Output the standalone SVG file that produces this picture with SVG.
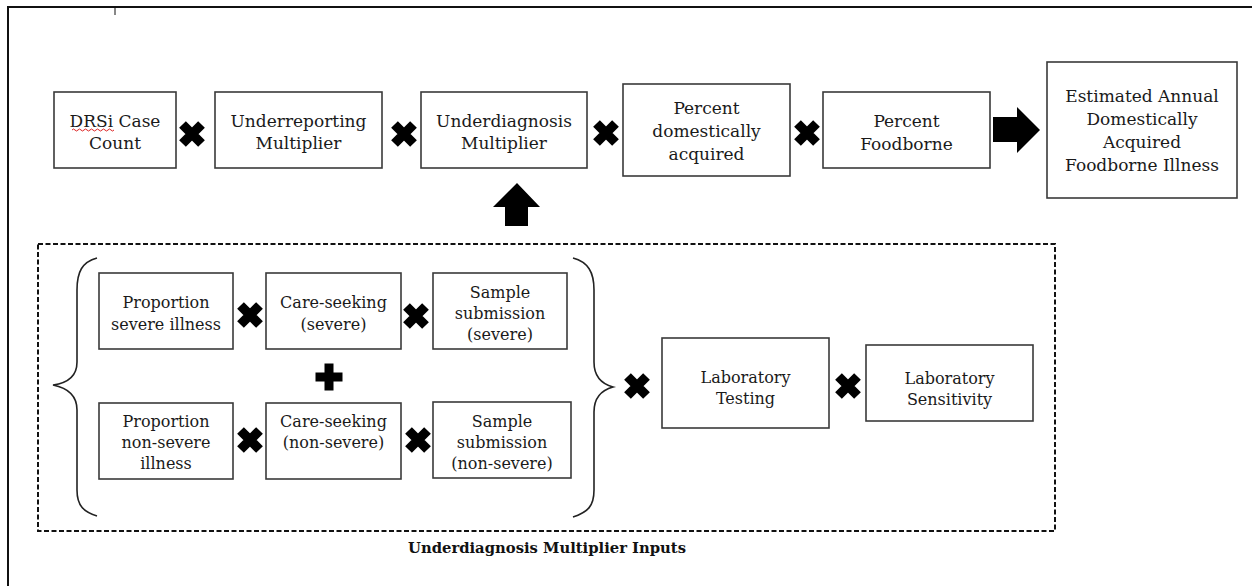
<svg xmlns="http://www.w3.org/2000/svg" width="1255" height="586" viewBox="0 0 1255 586">
  <style>
    .box { fill: #fff; stroke: #3a3a3a; stroke-width: 1.6; }
    .lbl { font-family: "DejaVu Serif", "Liberation Serif", serif; font-size: 16px; fill: #1a1a1a; text-anchor: middle; }
    .big { font-size: 17px; }
    .cap { font-family: "DejaVu Serif", "Liberation Serif", serif; font-size: 14.5px; font-weight: bold; fill: #111; text-anchor: middle; }
    .brace { fill: none; stroke: #222; stroke-width: 1.6; }
    .frame { fill: none; stroke: #111; stroke-width: 2; }
    .group { fill: none; stroke: #111; stroke-width: 2; stroke-dasharray: 5 2.5; }
    .op { fill: #000; }
  </style>
  <defs>
    <!-- heavy multiplication sign -->
    <g id="times">
      <path d="M-9.5,-9.5 L9.5,9.5 M9.5,-9.5 L-9.5,9.5" stroke="#000" stroke-width="9.5" fill="none"/>
    </g>
    <!-- heavy plus sign -->
    <g id="plus">
      <path d="M-4.5,-13.5 H4.5 V-4.5 H13.5 V4.5 H4.5 V13.5 H-4.5 V4.5 H-13.5 V-4.5 H-4.5 Z" fill="#000"/>
    </g>
  </defs>

  <rect width="1255" height="586" fill="#fff"/>

  <!-- page frame -->
  <path class="frame" d="M8,586 V7 H1252"/>
  <path d="M115,7 V15" stroke="#111" stroke-width="1"/>

  <!-- top row -->
  <g id="drsi-case-count">
    <rect class="box" x="54" y="92" width="122" height="76"/>
    <text class="lbl big" x="115" y="127">DRSi Case</text>
    <text class="lbl big" x="115" y="149">Count</text>
    <path d="M72,130 q1.5,-2 3,0 t3,0 t3,0 t3,0 t3,0 t3,0 t3,0 t3,0 t3,0 t3,0 t3,0 t3,0 t3,0 t3,0" fill="none" stroke="#d22" stroke-width="1"/>
  </g>
  <g id="underreporting-multiplier">
    <rect class="box" x="215" y="92" width="167" height="76"/>
    <text class="lbl big" x="298.5" y="127">Underreporting</text>
    <text class="lbl big" x="298.5" y="149">Multiplier</text>
  </g>
  <g id="underdiagnosis-multiplier">
    <rect class="box" x="421" y="92" width="166" height="76"/>
    <text class="lbl big" x="504" y="127">Underdiagnosis</text>
    <text class="lbl big" x="504" y="149">Multiplier</text>
  </g>
  <g id="percent-domestic">
    <rect class="box" x="623" y="84" width="167" height="92"/>
    <text class="lbl big" x="706.5" y="114">Percent</text>
    <text class="lbl big" x="706.5" y="137">domestically</text>
    <text class="lbl big" x="706.5" y="160">acquired</text>
  </g>
  <g id="percent-foodborne">
    <rect class="box" x="823" y="92" width="167" height="76"/>
    <text class="lbl big" x="906.5" y="127">Percent</text>
    <text class="lbl big" x="906.5" y="150">Foodborne</text>
  </g>
  <g id="estimated-illness">
    <rect class="box" x="1047" y="62" width="190" height="136"/>
    <text class="lbl big" x="1142" y="102">Estimated Annual</text>
    <text class="lbl big" x="1142" y="125">Domestically</text>
    <text class="lbl big" x="1142" y="148">Acquired</text>
    <text class="lbl big" x="1142" y="171">Foodborne Illness</text>
  </g>

  <!-- underdiagnosis inputs -->
  <g id="inputs-group">
    <rect class="group" x="38" y="244" width="1017" height="287"/>
    <text class="cap" x="547" y="553" textLength="278" lengthAdjust="spacingAndGlyphs">Underdiagnosis Multiplier Inputs</text>
  </g>
  <g id="braces">
    <path class="brace" d="M97,258 C82,262 77,272 77,290 V362 C77,376 68,383 53,385 C68,388 77,395 77,410 V490 C77,506 84,512 97,516"/>
    <path class="brace" d="M573,258 C588,262 594,272 594,290 V362 C594,377 602,384 613,387 C602,390 594,397 594,412 V490 C594,506 588,512 573,517"/>
  </g>
  <g id="proportion-severe">
    <rect class="box" x="99" y="273" width="134" height="76"/>
    <text class="lbl" x="166" y="308">Proportion</text>
    <text class="lbl" x="166" y="330">severe illness</text>
  </g>
  <g id="care-seeking-severe">
    <rect class="box" x="266" y="273" width="135" height="76"/>
    <text class="lbl" x="333.5" y="308">Care-seeking</text>
    <text class="lbl" x="333.5" y="330">(severe)</text>
  </g>
  <g id="sample-severe">
    <rect class="box" x="433" y="273" width="134" height="76"/>
    <text class="lbl" x="500" y="298">Sample</text>
    <text class="lbl" x="500" y="319">submission</text>
    <text class="lbl" x="500" y="340">(severe)</text>
  </g>
  <g id="proportion-nonsevere">
    <rect class="box" x="99" y="403" width="134" height="76"/>
    <text class="lbl" x="166" y="427">Proportion</text>
    <text class="lbl" x="166" y="448">non-severe</text>
    <text class="lbl" x="166" y="469">illness</text>
  </g>
  <g id="care-seeking-nonsevere">
    <rect class="box" x="266" y="403" width="135" height="76"/>
    <text class="lbl" x="333.5" y="427">Care-seeking</text>
    <text class="lbl" x="333.5" y="448">(non-severe)</text>
  </g>
  <g id="sample-nonsevere">
    <rect class="box" x="433" y="402" width="138" height="76"/>
    <text class="lbl" x="502" y="427">Sample</text>
    <text class="lbl" x="502" y="448">submission</text>
    <text class="lbl" x="502" y="469">(non-severe)</text>
  </g>
  <g id="lab-testing">
    <rect class="box" x="662" y="338" width="167" height="90"/>
    <text class="lbl" x="745.5" y="383">Laboratory</text>
    <text class="lbl" x="745.5" y="404">Testing</text>
  </g>
  <g id="lab-sensitivity">
    <rect class="box" x="866" y="345" width="167" height="76"/>
    <text class="lbl" x="949.5" y="384">Laboratory</text>
    <text class="lbl" x="949.5" y="405">Sensitivity</text>
  </g>

  <!-- operators and arrows -->
  <g id="connectors">
    <use href="#times" x="192" y="134"/>
    <use href="#times" x="404" y="134"/>
    <use href="#times" x="606" y="133"/>
    <use href="#times" x="807" y="133"/>
    <use href="#times" x="250" y="315"/>
    <use href="#times" x="416" y="316"/>
    <use href="#times" x="250" y="440"/>
    <use href="#times" x="418" y="440"/>
    <use href="#times" x="637" y="386"/>
    <use href="#times" x="848" y="386"/>
    <use href="#plus" x="329" y="377"/>
    <path class="op" d="M993,117 H1017 V107 L1040,130 L1017,153 V142 H993 Z"/>
    <path class="op" d="M517,183 L540,207 H528 V226 H505 V207 H493 Z"/>
  </g>
</svg>
